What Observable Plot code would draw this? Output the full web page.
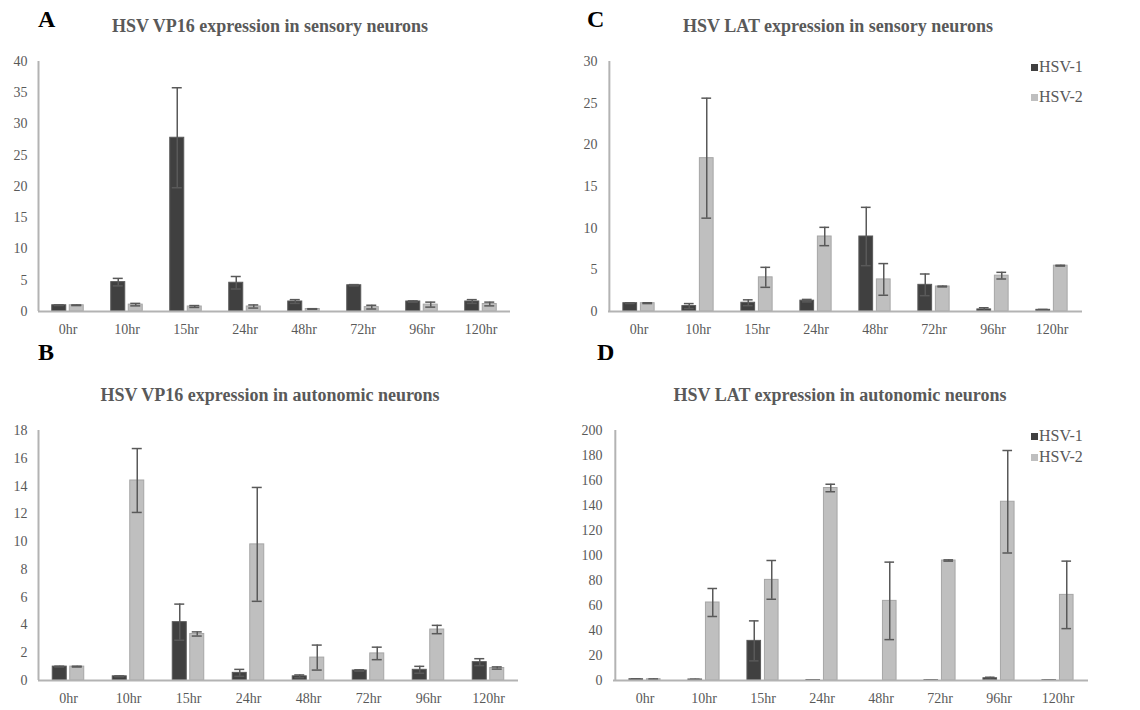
<!DOCTYPE html>
<html>
<head>
<meta charset="utf-8">
<script src="https://cdn.jsdelivr.net/npm/d3@7"></script>
<script src="https://cdn.jsdelivr.net/npm/@observablehq/plot@0.6"></script>
<style>
  html, body { margin: 0; padding: 0; background: #fff; }
  #root { position: relative; width: 1140px; height: 710px; overflow: hidden; font-family: "Liberation Serif", "Times New Roman", serif; }
  .letter { position: absolute; font-weight: bold; font-size: 24px; color: #000; line-height: 1; }
  .title { position: absolute; font-weight: bold; font-size: 18px; color: #595959; white-space: nowrap; transform: translate(-50%, -50%); line-height: 1; }
  .leg { position: absolute; font-size: 16px; color: #595959; line-height: 1; white-space: nowrap; }
  .leg span.sw { display: inline-block; width: 7px; height: 7px; margin-right: 1px; vertical-align: 1px; }
  svg.panel { position: absolute; }
  svg.panel text { font-family: "Liberation Serif", "Times New Roman", serif !important; }
</style>
</head>
<body>
<div id="root"></div>
<script>
// ---- Data ----
const times = ["0hr", "10hr", "15hr", "24hr", "48hr", "72hr", "96hr", "120hr"];
const seriesNames = ["HSV-1", "HSV-2"];

// A: HSV VP16 expression in sensory neurons
const vp16SensoryHSV1 = [1.0, 4.7, 27.8, 4.6, 1.6, 4.2, 1.6, 1.6];
const vp16SensoryHSV1Err = [0.05, 0.6, 8.0, 1.0, 0.3, 0.1, 0.1, 0.3];
const vp16SensoryHSV2 = [1.0, 1.1, 0.8, 0.8, 0.4, 0.7, 1.1, 1.2];
const vp16SensoryHSV2Err = [0.05, 0.2, 0.15, 0.25, 0.05, 0.3, 0.4, 0.3];
const vp16SensoryTicks = [0, 5, 10, 15, 20, 25, 30, 35, 40];

// B: HSV VP16 expression in autonomic neurons
const vp16AutoHSV1 = [1.0, 0.3, 4.2, 0.55, 0.3, 0.72, 0.77, 1.32];
const vp16AutoHSV1Err = [0.03, 0.03, 1.3, 0.25, 0.1, 0.05, 0.25, 0.25];
const vp16AutoHSV2 = [1.0, 14.4, 3.35, 9.8, 1.65, 1.95, 3.67, 0.9];
const vp16AutoHSV2Err = [0.03, 2.3, 0.15, 4.1, 0.9, 0.45, 0.3, 0.08];
const vp16AutoTicks = [0, 2, 4, 6, 8, 10, 12, 14, 16, 18];

// C: HSV LAT expression in sensory neurons
const latSensoryHSV1 = [1.0, 0.65, 1.05, 1.3, 9.0, 3.2, 0.25, 0.2];
const latSensoryHSV1Err = [0.05, 0.3, 0.35, 0.15, 3.5, 1.3, 0.2, 0.05];
const latSensoryHSV2 = [1.0, 18.4, 4.1, 9.0, 3.85, 3.0, 4.3, 5.5];
const latSensoryHSV2Err = [0.05, 7.2, 1.2, 1.1, 1.9, 0.05, 0.4, 0.05];
const latSensoryTicks = [0, 5, 10, 15, 20, 25, 30];

// D: HSV LAT expression in autonomic neurons
const latAutoHSV1 = [1.0, 0.8, 31.7, 0.4, 0, 0.3, 1.8, 0.3];
const latAutoHSV1Err = [0.2, 0.2, 16, 0.1, 0, 0.1, 0.8, 0.1];
const latAutoHSV2 = [1.0, 62.4, 80.5, 154, 63.7, 96, 143, 68.5];
const latAutoHSV2Err = [0.2, 11.2, 15.5, 3, 31, 0.5, 41, 27];
const latAutoTicks = [0, 20, 40, 60, 80, 100, 120, 140, 160, 180, 200];

const fills = {"HSV-1": "#404040", "HSV-2": "#bfbfbf"};
const strokes = {"HSV-1": "#595959", "HSV-2": "#a6a6a6"};
const serif = "'Liberation Serif', 'Times New Roman', serif";

const root = document.getElementById("root");

function makePanel(cfg) {
  const rows = [];
  times.forEach((t, i) => {
    rows.push({time: t, series: "HSV-1", v: cfg.v1[i], e: cfg.e1[i]});
    rows.push({time: t, series: "HSV-2", v: cfg.v2[i], e: cfg.e2[i]});
  });
  const plotW = cfg.width - cfg.marginLeft - cfg.marginRight;
  const step = plotW / times.length;
  const barW = 14, gap = 3.5, capW = 10;
  const off = (gap + barW) / 2;
  const barInset = step / 2 - barW / 2;
  const capInset = step / 2 - capW / 2;
  const yMax = cfg.ticks[cfg.ticks.length - 1];

  const marks = [];
  seriesNames.forEach(s => {
    const d = rows.filter(r => r.series === s);
    const dx = s === "HSV-1" ? -off : off;
    marks.push(Plot.barY(d, {x: "time", y: "v", fill: fills[s], stroke: strokes[s], strokeWidth: 1,
      insetLeft: barInset, insetRight: barInset, dx}));
  });
  seriesNames.forEach(s => {
    const d = rows.filter(r => r.series === s && r.e > 0);
    const dx = s === "HSV-1" ? -off : off;
    marks.push(Plot.ruleX(d, {x: "time", y1: r => Math.max(0, r.v - r.e), y2: r => r.v + r.e,
      stroke: "#595959", strokeWidth: 1.5, dx}));
    marks.push(Plot.tickY(d, {x: "time", y: r => r.v + r.e, stroke: "#595959", strokeWidth: 1.5,
      insetLeft: capInset, insetRight: capInset, dx}));
    marks.push(Plot.tickY(d, {x: "time", y: r => Math.max(0, r.v - r.e), stroke: "#595959", strokeWidth: 1.5,
      insetLeft: capInset, insetRight: capInset, dx}));
  });
  marks.push(Plot.ruleX([times[0]], {x: d => d, y1: 0, y2: yMax, stroke: "#b3b3b3", strokeWidth: 2, dx: -step / 2}));
  marks.push(Plot.ruleY([0], {stroke: "#b3b3b3", strokeWidth: 2}));
  marks.push(Plot.axisY({ticks: cfg.ticks, tickSize: 0, tickPadding: 11, label: null, fontSize: 14, fontFamily: serif}));
  marks.push(Plot.axisX({tickSize: 0, tickPadding: 13, label: null, fontSize: 14, fontFamily: serif}));

  const svg = Plot.plot({
    width: cfg.width,
    height: cfg.height,
    marginLeft: cfg.marginLeft,
    marginRight: cfg.marginRight,
    marginTop: cfg.marginTop,
    marginBottom: cfg.marginBottom,
    x: {type: "band", domain: times, padding: 0, label: null},
    y: {domain: [0, yMax], label: null},
    style: {color: "#595959", fontFamily: serif, fontSize: "14px", background: "transparent", overflow: "visible"},
    marks
  });
  svg.classList.add("panel");
  svg.style.left = cfg.left + "px";
  svg.style.top = cfg.top + "px";
  root.appendChild(svg);

  const letter = document.createElement("div");
  letter.className = "letter";
  letter.textContent = cfg.letter;
  letter.style.left = cfg.letterX + "px";
  letter.style.top = cfg.letterY + "px";
  root.appendChild(letter);

  const title = document.createElement("div");
  title.className = "title";
  title.textContent = cfg.title;
  title.style.left = cfg.titleX + "px";
  title.style.top = cfg.titleY + "px";
  root.appendChild(title);

  if (cfg.legend) {
    seriesNames.forEach((s, i) => {
      const lg = document.createElement("div");
      lg.className = "leg";
      lg.style.left = cfg.legend.x + "px";
      lg.style.top = (cfg.legend.y + i * cfg.legend.dy) + "px";
      const sw = document.createElement("span");
      sw.className = "sw";
      sw.style.background = fills[s];
      lg.appendChild(sw);
      lg.appendChild(document.createTextNode(s));
      root.appendChild(lg);
    });
  }
}

makePanel({letter: "A", letterX: 38, letterY: 7, title: "HSV VP16 expression in sensory neurons", titleX: 270, titleY: 26,
  left: 0, top: 0, width: 570, height: 345, marginLeft: 38, marginRight: 60, marginTop: 61, marginBottom: 34,
  v1: vp16SensoryHSV1, e1: vp16SensoryHSV1Err, v2: vp16SensoryHSV2, e2: vp16SensoryHSV2Err, ticks: vp16SensoryTicks});

makePanel({letter: "C", letterX: 587, letterY: 7, title: "HSV LAT expression in sensory neurons", titleX: 838, titleY: 26,
  left: 570, top: 0, width: 570, height: 345, marginLeft: 38, marginRight: 58, marginTop: 61, marginBottom: 34,
  v1: latSensoryHSV1, e1: latSensoryHSV1Err, v2: latSensoryHSV2, e2: latSensoryHSV2Err, ticks: latSensoryTicks,
  legend: {x: 1031, y: 59, dy: 30}});

makePanel({letter: "B", letterX: 38, letterY: 340, title: "HSV VP16 expression in autonomic neurons", titleX: 270, titleY: 395,
  left: 0, top: 360, width: 570, height: 350, marginLeft: 38, marginRight: 52, marginTop: 70, marginBottom: 30,
  v1: vp16AutoHSV1, e1: vp16AutoHSV1Err, v2: vp16AutoHSV2, e2: vp16AutoHSV2Err, ticks: vp16AutoTicks});

makePanel({letter: "D", letterX: 597, letterY: 340, title: "HSV LAT expression in autonomic neurons", titleX: 840, titleY: 395,
  left: 570, top: 360, width: 570, height: 350, marginLeft: 43, marginRight: 52, marginTop: 70, marginBottom: 30,
  v1: latAutoHSV1, e1: latAutoHSV1Err, v2: latAutoHSV2, e2: latAutoHSV2Err, ticks: latAutoTicks,
  legend: {x: 1031, y: 428, dy: 21}});
</script>
</body>
</html>
